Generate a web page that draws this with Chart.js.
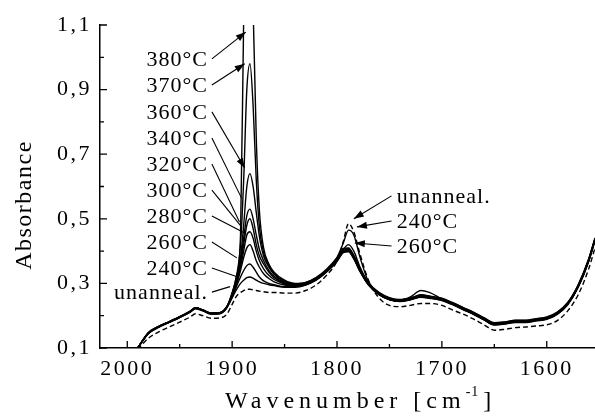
<!DOCTYPE html>
<html>
<head>
<meta charset="utf-8">
<script src="https://cdn.jsdelivr.net/npm/chart.js@4/dist/chart.umd.min.js"></script>
<style>
  html, body { margin: 0; padding: 0; background: #fff; }
  canvas { display: block; }
</style>
</head>
<body>
<canvas id="myChart" width="595" height="418"></canvas>
<script>
// wavenumber grid (cm-1), shared by all spectra
const wavenumbers = [1990, 1980, 1970, 1960, 1950, 1940, 1935, 1928, 1920, 1912, 1905, 1900,
  1896, 1892, 1889, 1886, 1883, 1880, 1877, 1874, 1870, 1865, 1860, 1850, 1840, 1830, 1820,
  1810, 1800, 1794, 1789, 1784, 1778, 1770, 1760, 1750, 1740, 1730, 1720, 1712, 1700, 1690,
  1680, 1670, 1660, 1650, 1640, 1630, 1620, 1610, 1600, 1590, 1580, 1570, 1560, 1554];

// absorbance
const unannealed = [0.095, 0.13, 0.15, 0.165, 0.18, 0.196, 0.206, 0.2, 0.192, 0.193, 0.205, 0.235,
  0.26, 0.272, 0.278, 0.282, 0.282, 0.28, 0.278, 0.276, 0.274, 0.272, 0.272, 0.27, 0.27, 0.278, 0.295,
  0.325, 0.37, 0.43, 0.485, 0.46, 0.39, 0.31, 0.255, 0.232, 0.228, 0.232, 0.238, 0.238, 0.232, 0.218,
  0.205, 0.19, 0.172, 0.155, 0.158, 0.163, 0.165, 0.168, 0.172, 0.185, 0.215, 0.265, 0.345, 0.41];
const t240 = [0.10, 0.145, 0.165, 0.18, 0.195, 0.212, 0.223, 0.217, 0.207, 0.208, 0.226, 0.255,
  0.28, 0.30, 0.31, 0.318, 0.32, 0.316, 0.31, 0.305, 0.30, 0.296, 0.293, 0.288, 0.288, 0.295, 0.312,
  0.34, 0.38, 0.425, 0.465, 0.45, 0.38, 0.305, 0.27, 0.252, 0.248, 0.258, 0.278, 0.272, 0.252, 0.238,
  0.222, 0.207, 0.19, 0.174, 0.177, 0.182, 0.182, 0.187, 0.192, 0.207, 0.238, 0.292, 0.372, 0.437];
const t260 = [0.10, 0.146, 0.166, 0.181, 0.196, 0.213, 0.224, 0.218, 0.208, 0.209, 0.227, 0.258,
  0.29, 0.32, 0.34, 0.355, 0.36, 0.35, 0.335, 0.32, 0.308, 0.30, 0.296, 0.29, 0.29, 0.296, 0.312,
  0.338, 0.375, 0.405, 0.42, 0.40, 0.35, 0.30, 0.268, 0.25, 0.246, 0.252, 0.265, 0.26, 0.25, 0.236,
  0.221, 0.206, 0.189, 0.173, 0.176, 0.181, 0.181, 0.186, 0.191, 0.206, 0.236, 0.29, 0.37, 0.435];
const t280 = [0.10, 0.145, 0.165, 0.18, 0.195, 0.212, 0.222, 0.216, 0.206, 0.207, 0.226, 0.26,
  0.295, 0.34, 0.38, 0.41, 0.42, 0.40, 0.37, 0.35, 0.33, 0.315, 0.305, 0.295, 0.291, 0.295, 0.31,
  0.335, 0.37, 0.398, 0.40, 0.378, 0.338, 0.296, 0.266, 0.25, 0.245, 0.25, 0.258, 0.255, 0.248, 0.235,
  0.22, 0.205, 0.188, 0.172, 0.175, 0.18, 0.18, 0.185, 0.19, 0.205, 0.235, 0.29, 0.37, 0.435];
const t300 = [0.10, 0.144, 0.164, 0.179, 0.194, 0.211, 0.221, 0.215, 0.205, 0.206, 0.225, 0.262,
  0.30, 0.35, 0.40, 0.45, 0.46, 0.44, 0.40, 0.37, 0.345, 0.325, 0.312, 0.298, 0.292, 0.296, 0.31,
  0.335, 0.368, 0.395, 0.398, 0.376, 0.336, 0.295, 0.265, 0.249, 0.244, 0.249, 0.257, 0.254, 0.247, 0.234,
  0.219, 0.204, 0.187, 0.171, 0.174, 0.179, 0.179, 0.184, 0.189, 0.204, 0.234, 0.288, 0.368, 0.432];
const t320 = [0.10, 0.146, 0.166, 0.181, 0.196, 0.213, 0.224, 0.217, 0.207, 0.208, 0.227, 0.265,
  0.305, 0.36, 0.42, 0.48, 0.50, 0.47, 0.42, 0.385, 0.36, 0.335, 0.318, 0.30, 0.294, 0.297, 0.312,
  0.336, 0.37, 0.397, 0.40, 0.378, 0.338, 0.296, 0.266, 0.25, 0.245, 0.25, 0.259, 0.256, 0.249, 0.236,
  0.221, 0.206, 0.189, 0.173, 0.176, 0.181, 0.181, 0.186, 0.191, 0.206, 0.236, 0.29, 0.37, 0.435];
const t340 = [0.10, 0.147, 0.167, 0.182, 0.197, 0.214, 0.225, 0.218, 0.208, 0.209, 0.228, 0.265,
  0.31, 0.37, 0.44, 0.51, 0.53, 0.50, 0.45, 0.405, 0.37, 0.34, 0.322, 0.302, 0.295, 0.298, 0.313,
  0.337, 0.372, 0.40, 0.402, 0.38, 0.34, 0.297, 0.267, 0.251, 0.246, 0.251, 0.26, 0.257, 0.25, 0.237,
  0.222, 0.207, 0.19, 0.174, 0.177, 0.182, 0.182, 0.187, 0.192, 0.207, 0.237, 0.292, 0.372, 0.437];
const t360 = [0.10, 0.145, 0.165, 0.18, 0.195, 0.212, 0.223, 0.216, 0.206, 0.207, 0.226, 0.27,
  0.31, 0.38, 0.48, 0.60, 0.64, 0.60, 0.52, 0.445, 0.385, 0.35, 0.328, 0.305, 0.297, 0.30, 0.315,
  0.34, 0.375, 0.403, 0.405, 0.382, 0.342, 0.298, 0.268, 0.252, 0.247, 0.252, 0.261, 0.258, 0.251, 0.238,
  0.223, 0.208, 0.191, 0.175, 0.178, 0.183, 0.183, 0.188, 0.193, 0.208, 0.238, 0.293, 0.373, 0.438];
const t370 = [0.10, 0.146, 0.166, 0.181, 0.196, 0.213, 0.224, 0.217, 0.207, 0.208, 0.228, 0.27,
  0.32, 0.42, 0.62, 0.90, 0.98, 0.85, 0.62, 0.475, 0.395, 0.355, 0.33, 0.307, 0.299, 0.302, 0.317,
  0.342, 0.378, 0.406, 0.408, 0.385, 0.344, 0.30, 0.27, 0.254, 0.249, 0.254, 0.263, 0.26, 0.253, 0.24,
  0.225, 0.21, 0.193, 0.177, 0.18, 0.185, 0.185, 0.19, 0.195, 0.21, 0.24, 0.295, 0.375, 0.44];
const t380 = [0.10, 0.147, 0.167, 0.182, 0.197, 0.214, 0.225, 0.218, 0.208, 0.209, 0.229, 0.27,
  0.32, 0.45, 1.12, 1.6, 1.7, 1.15, 0.75, 0.525, 0.41, 0.36, 0.335, 0.31, 0.30, 0.303, 0.318,
  0.344, 0.38, 0.408, 0.41, 0.387, 0.346, 0.302, 0.272, 0.256, 0.25, 0.255, 0.264, 0.261, 0.254, 0.241,
  0.226, 0.211, 0.194, 0.178, 0.181, 0.186, 0.186, 0.191, 0.196, 0.211, 0.241, 0.296, 0.376, 0.441];

const xTicks = [1600, 1700, 1800, 1900, 2000];
const xMinorTicks = [1650, 1750, 1850, 1950];
const yTicks = [0.1, 0.3, 0.5, 0.7, 0.9, 1.1];
const yMinorTicks = [0.2, 0.4, 0.6, 0.8, 1.0];

// labels: text, anchor (wavenumber, absorbance), arrow tip (wavenumber, absorbance)
const leftLabels = ['380°C', '370°C', '360°C', '340°C', '320°C', '300°C', '280°C', '260°C', '240°C', 'unanneal.'];
const leftLabelY = [0.995, 0.914, 0.831, 0.750, 0.670, 0.589, 0.509, 0.428, 0.348, 0.273];
const leftTipX = [1887, 1888, 1888, 1891, 1893, 1891, 1888, 1895.5, 1894.6, 1902];
const leftTipY = [1.078, 0.98, 0.657, 0.564, 0.49, 0.475, 0.456, 0.379, 0.32, 0.29];
const rightLabels = ['unanneal.', '240°C', '260°C'];
const rightLabelY = [0.571, 0.493, 0.416];
const rightTipX = [1784, 1781, 1783];
const rightTipY = [0.50, 0.475, 0.425];

const toPoints = (arr) => wavenumbers.map((w, i) => ({ x: w, y: arr[i] }));

const serif = 'Liberation Serif, Times New Roman, serif';
Chart.defaults.font.family = serif;
Chart.defaults.color = '#000';

function line(label, arr, dash) {
  return {
    label: label,
    data: toPoints(arr),
    borderColor: '#000',
    borderWidth: 1.4,
    borderDash: dash || [],
    pointRadius: 0,
    cubicInterpolationMode: 'monotone',
    fill: false,
  };
}

function arrow(ctx, x1, y1, x2, y2, head) {
  ctx.beginPath();
  ctx.moveTo(x1, y1);
  ctx.lineTo(x2, y2);
  ctx.stroke();
  if (!head) return;
  const a = Math.atan2(y2 - y1, x2 - x1);
  const L = 10, W = 3.5;
  ctx.beginPath();
  ctx.moveTo(x2, y2);
  ctx.lineTo(x2 - L * Math.cos(a) + W * Math.sin(a), y2 - L * Math.sin(a) - W * Math.cos(a));
  ctx.lineTo(x2 - L * Math.cos(a) - W * Math.sin(a), y2 - L * Math.sin(a) + W * Math.cos(a));
  ctx.closePath();
  ctx.fill();
}

const spacing = {
  id: 'spacing',
  beforeLayout(chart) { chart.ctx.letterSpacing = '2.5px'; },
  beforeDraw(chart) { chart.ctx.letterSpacing = '2.5px'; },
};

const decorations = {
  id: 'decorations',
  afterDraw(chart) {
    const ctx = chart.ctx;
    const xs = chart.scales.x, ys = chart.scales.y;
    const area = chart.chartArea;
    ctx.save();
    ctx.strokeStyle = '#000';
    ctx.fillStyle = '#000';
    ctx.lineWidth = 1.3;
    // inward ticks
    ctx.beginPath();
    xTicks.forEach((v) => { const p = xs.getPixelForValue(v); ctx.moveTo(p, area.bottom); ctx.lineTo(p, area.bottom - 7); });
    xMinorTicks.forEach((v) => { const p = xs.getPixelForValue(v); ctx.moveTo(p, area.bottom); ctx.lineTo(p, area.bottom - 4); });
    yTicks.forEach((v) => { const p = ys.getPixelForValue(v); ctx.moveTo(area.left, p); ctx.lineTo(area.left + 7, p); });
    yMinorTicks.forEach((v) => { const p = ys.getPixelForValue(v); ctx.moveTo(area.left, p); ctx.lineTo(area.left + 4, p); });
    ctx.stroke();

    // annotations
    ctx.font = '22px ' + serif;
    ctx.letterSpacing = '1px';
    ctx.textBaseline = 'middle';
    ctx.lineWidth = 1.1;
    const leftText = xs.getPixelForValue(1923);
    const leftStart = xs.getPixelForValue(1919.3);
    leftLabels.forEach((t, i) => {
      const y = ys.getPixelForValue(leftLabelY[i]);
      ctx.textAlign = 'right';
      ctx.fillText(t, leftText, y + 1);
      arrow(ctx, leftStart, y, xs.getPixelForValue(leftTipX[i]), ys.getPixelForValue(leftTipY[i]), i < 3);
    });
    const rightText = xs.getPixelForValue(1743);
    const rightStart = xs.getPixelForValue(1748);
    rightLabels.forEach((t, i) => {
      const y = ys.getPixelForValue(rightLabelY[i]);
      ctx.textAlign = 'left';
      ctx.fillText(t, rightText, y + 1);
      arrow(ctx, rightStart, y, xs.getPixelForValue(rightTipX[i]), ys.getPixelForValue(rightTipY[i]), true);
    });

    // axis titles
    ctx.textAlign = 'center';
    ctx.textBaseline = 'alphabetic';
    ctx.font = '24px ' + serif;
    ctx.letterSpacing = '1.5px';
    ctx.save();
    ctx.translate(31, 205);
    ctx.rotate(-Math.PI / 2);
    ctx.fillText('Absorbance', 0, 0);
    ctx.restore();

    ctx.textAlign = 'left';
    ctx.font = '24px ' + serif;
    ctx.letterSpacing = '5px';
    const main = 'Wavenumber [cm';
    let x0 = area.left + 125;
    const yb = 408;
    ctx.fillText(main, x0, yb);
    x0 += ctx.measureText(main).width;
    ctx.font = '14px ' + serif;
    ctx.letterSpacing = '1px';
    ctx.fillText('-1', x0, yb - 12);
    x0 += ctx.measureText('-1').width + 4;
    ctx.font = '24px ' + serif;
    ctx.fillText(']', x0, yb);
    ctx.restore();
  },
};

new Chart(document.getElementById('myChart'), {
  type: 'line',
  data: {
    datasets: [
      line('unanneal.', unannealed, [5, 3]),
      line('240°C', t240),
      line('260°C', t260),
      line('280°C', t280),
      line('300°C', t300),
      line('320°C', t320),
      line('340°C', t340),
      line('360°C', t360),
      line('370°C', t370),
      line('380°C', t380),
    ],
  },
  options: {
    responsive: false,
    animation: false,
    layout: { padding: { top: 25, right: 0, left: 0, bottom: 0 } },
    plugins: { legend: { display: false }, tooltip: { enabled: false } },
    scales: {
      x: {
        type: 'linear',
        reverse: true,
        min: 1554,
        max: 2026,
        afterBuildTicks: (scale) => { scale.ticks = xTicks.map((v) => ({ value: v })); },
        afterFit: (scale) => { scale.height = 70; },
        grid: { display: false, drawTicks: false },
        border: { display: true, color: '#000', width: 1.5 },
        ticks: { font: { size: 22 }, padding: 8, maxRotation: 0, callback: (v) => String(v) },
      },
      y: {
        min: 0.1,
        max: 1.1,
        afterBuildTicks: (scale) => { scale.ticks = yTicks.map((v) => ({ value: v })); },
        afterFit: (scale) => { scale.width = 100; },
        grid: { display: false, drawTicks: false },
        border: { display: true, color: '#000', width: 1.5 },
        ticks: { font: { size: 22 }, padding: 8, callback: (v) => v.toFixed(1).replace('.', ',') },
      },
    },
  },
  plugins: [spacing, decorations],
});
</script>
</body>
</html>
